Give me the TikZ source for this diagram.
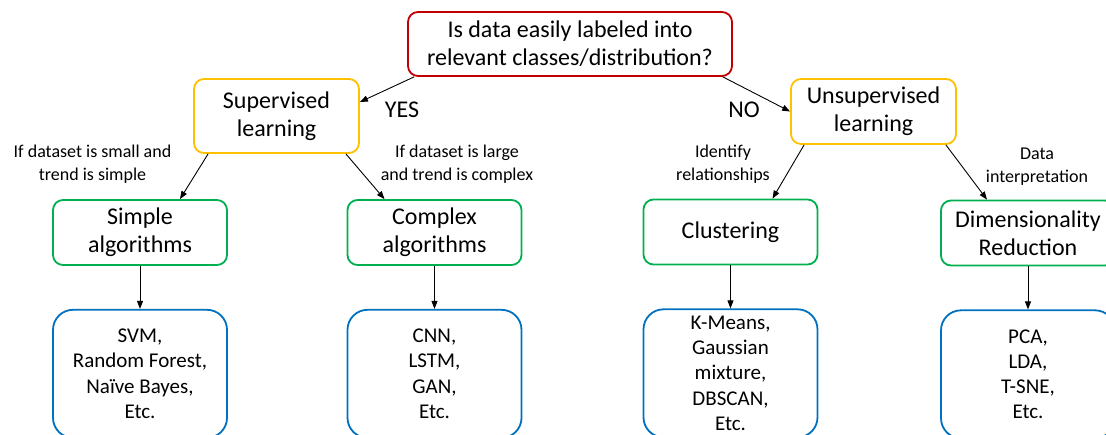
\documentclass[tikz,border=0pt]{standalone}
\usepackage{fontspec}
\setmainfont{Carlito}
\usepackage{xcolor}
\usepackage{tikz}
\usetikzlibrary{arrows.meta, positioning}

\definecolor{qred}{RGB}{192,0,0}
\definecolor{learnyellow}{RGB}{255,192,0}
\definecolor{algogreen}{RGB}{0,176,80}
\definecolor{listblue}{RGB}{0,112,192}

\begin{document}
\begin{tikzpicture}[
    x=1pt, y=-1pt,
    node distance=43pt,
    base/.style={draw, rectangle, rounded corners=10pt, line width=1.8pt, align=center, font=\fontsize{24}{28}\selectfont},
    question/.style={base, draw=qred, minimum width=324pt, minimum height=64pt},
    learn/.style={base, draw=learnyellow, minimum width=165pt},
    algo/.style={base, draw=algogreen, minimum width=174pt, minimum height=65pt},
    examples/.style={base, draw=listblue, rounded corners=20pt, minimum width=174pt, minimum height=128pt, inner ysep=1pt, font=\fontsize{21}{25.3}\selectfont},
    note/.style={align=center, font=\fontsize{18}{23}\selectfont},
    answer/.style={font=\fontsize{24}{28}\selectfont},
    arrow/.style={->, >={Triangle[length=8pt, width=6pt]}, line width=0.9pt}
]
\useasboundingbox (0,0) rectangle (1106,434);
\clip (0,0) rectangle (1106,434);

% question and the two branches
\node[question] (q) at (570,44) {Is data easily labeled into\\relevant classes/distribution?};
\node[learn, minimum height=74pt] (sup) at (276.5,116) {Supervised\\learning};
\node[learn, minimum height=65pt] (unsup) at (873.5,111.5) {Unsupervised\\learning};
\node[answer] (yes) at (402,110) {YES};
\node[answer] (no) at (744,110) {NO};

% algorithm families
\node[algo] (simple) at (140,232.5) {Simple\\algorithms};
\node[algo] (complex) at (434.5,232.5) {Complex\\algorithms};
\node[algo] (clust) at (730.5,232) {Clustering};
\node[algo] (dimred) at (1028,233) {Dimensionality\\Reduction};

\node[note] (small) at (92.5,164.5) {If dataset is small and\\trend is simple};
\node[note] (large) at (457,164) {If dataset is large\\and trend is complex};
\node[note] (rel) at (723,164) {Identify\\relationships};
\node[note] (interp) at (1037,167) {Data\\interpretation};

% examples
\node[examples, below=of simple] (svm) {SVM,\\Random Forest,\\Naïve Bayes,\\Etc.};
\node[examples, below=of complex] (cnn) {CNN,\\LSTM,\\GAN,\\Etc.};
\node[examples, below=of clust] (kmeans) {K-Means,\\Gaussian\\mixture,\\DBSCAN,\\Etc.};
\node[examples, below=of dimred] (pca) {PCA,\\LDA,\\T-SNE,\\Etc.};

\draw[arrow] ([xshift=7pt]q.south west) -- ([yshift=14pt]sup.east);
\draw[arrow] ([xshift=-10pt]q.south east) -- (unsup.west);
\draw[arrow] ([xshift=15pt]sup.south west) -- ([xshift=40pt]simple.north);
\draw[arrow] ([xshift=-14pt]sup.south east) -- ([xshift=-50pt]complex.north);
\draw[arrow] ([xshift=14pt]unsup.south west) -- ([xshift=42pt]clust.north);
\draw[arrow] ([xshift=-11pt]unsup.south east) -- ([xshift=-41pt]dimred.north);
\foreach \a/\b in {simple/svm, complex/cnn, clust/kmeans, dimred/pca}
  \draw[arrow] (\a) -- (\b);
\end{tikzpicture}
\end{document}
